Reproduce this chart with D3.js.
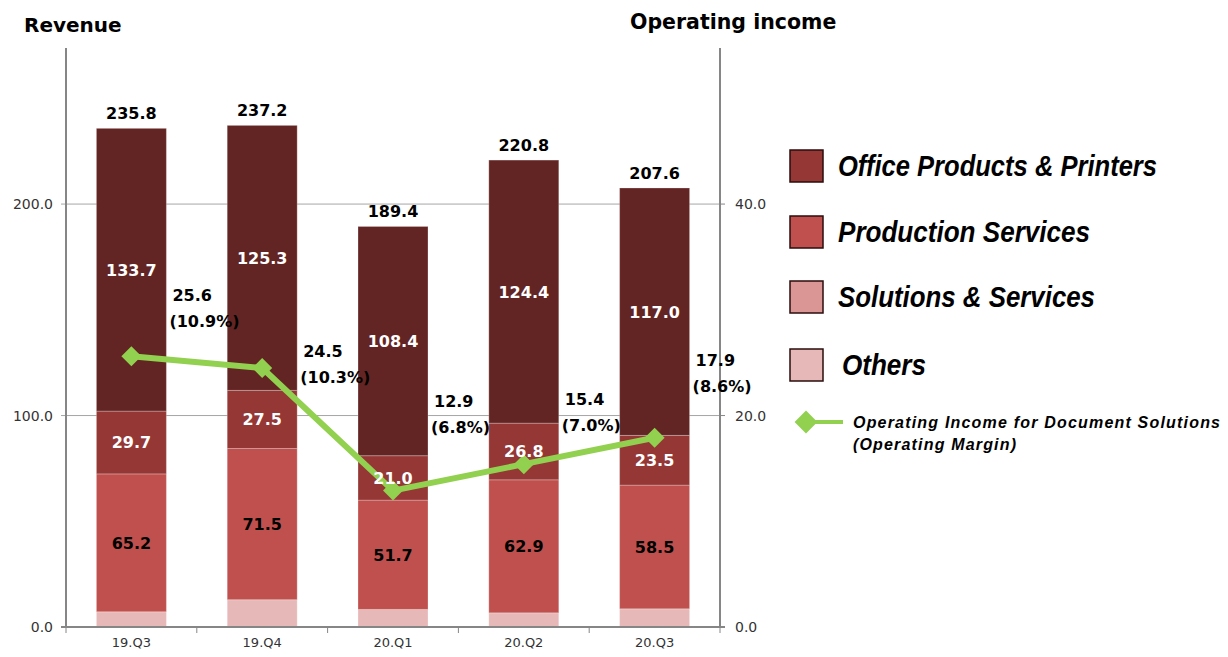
<!DOCTYPE html>
<meta charset="utf-8">
<style>
body { margin: 0; background: #fff; }
svg text { font-family: "DejaVu Sans", Verdana, sans-serif; }
.tick-label { font-size: 14px; fill: #333; }
.seg-label { font-size: 16px; font-weight: bold; }
.total-label { font-size: 16px; font-weight: bold; fill: #000; }
.op-label { font-size: 16px; font-weight: bold; fill: #000; }
.title { font-size: 20px; font-weight: bold; fill: #000; }
.legend-text { font-family: "Liberation Sans", Arial, sans-serif; font-weight: bold; font-style: italic; fill: #000; }
</style>
<body>
<div id="chart"></div>
<script src="https://cdn.jsdelivr.net/npm/d3@7"></script>
<script>
// ---- data ----
var quarters = ["19.Q3", "19.Q4", "20.Q1", "20.Q2", "20.Q3"];
var officeProducts = [133.7, 125.3, 108.4, 124.4, 117.0];
var productionServices = [29.7, 27.5, 21.0, 26.8, 23.5];
var solutionsServices = [65.2, 71.5, 51.7, 62.9, 58.5];
var others = [7.2, 12.9, 8.3, 6.7, 8.6];
var totals = [235.8, 237.2, 189.4, 220.8, 207.6];
var opIncome = [25.6, 24.5, 12.9, 15.4, 17.9];
var opMargin = ["10.9%", "10.3%", "6.8%", "7.0%", "8.6%"];
var leftTicks = [0, 100, 200];
var rightTicks = [0, 20, 40];

var W = 1228, H = 657;
var plotLeft = 66, plotRight = 720, plotTop = 48, plotBottom = 627;

var svg = d3.select("#chart").append("svg")
  .attr("width", W).attr("height", H);

var x = d3.scaleBand().domain(quarters).range([plotLeft, plotRight])
  .paddingInner(0.465).paddingOuter(0.2325);
var y = d3.scaleLinear().domain([0, 273.8]).range([plotBottom, plotTop]);
var y2 = d3.scaleLinear().domain([0, 54.76]).range([plotBottom, plotTop]);

// gridlines
svg.selectAll(".grid").data(leftTicks.filter(function(d){ return d > 0; }))
  .enter().append("line")
  .attr("x1", plotLeft - 5).attr("x2", plotRight)
  .attr("y1", function(d){ return y(d); }).attr("y2", function(d){ return y(d); })
  .attr("stroke", "#a6a6a6").attr("stroke-width", 1);

// stacked bars
var keys = ["others", "solutions", "production", "office"];
var colors = {others: "#e6b9b8", solutions: "#c0504d", production: "#953735", office: "#632523"};
var labelFill = {solutions: "#000", production: "#fff", office: "#fff"};
var rows = quarters.map(function(q, i) {
  return {q: q, others: others[i], solutions: solutionsServices[i],
          production: productionServices[i], office: officeProducts[i]};
});
var layers = d3.stack().keys(keys)(rows);

var g = svg.append("g");
layers.forEach(function(layer) {
  g.selectAll(null).data(layer).enter().append("rect")
    .attr("x", function(d){ return x(d.data.q); })
    .attr("width", x.bandwidth())
    .attr("y", function(d){ return y(d[1]); })
    .attr("height", function(d){ return y(d[0]) - y(d[1]); })
    .attr("fill", colors[layer.key])
    .attr("stroke", "rgba(255,255,255,0.25)").attr("stroke-width", 1);
});

// axes
svg.append("line").attr("x1", plotLeft).attr("x2", plotLeft).attr("y1", plotTop).attr("y2", plotBottom)
  .attr("stroke", "#868686").attr("stroke-width", 2);
svg.append("line").attr("x1", plotRight).attr("x2", plotRight).attr("y1", plotTop).attr("y2", plotBottom)
  .attr("stroke", "#868686").attr("stroke-width", 2);
svg.append("line").attr("x1", plotLeft - 5).attr("x2", plotRight + 5).attr("y1", plotBottom).attr("y2", plotBottom)
  .attr("stroke", "#868686").attr("stroke-width", 2);

svg.selectAll(".lt").data(leftTicks).enter().append("text")
  .attr("class", "tick-label")
  .attr("x", plotLeft - 13).attr("y", function(d){ return y(d) + 5; })
  .attr("text-anchor", "end")
  .text(function(d){ return d.toFixed(1); });
svg.selectAll(".rt-tick").data(rightTicks).enter().append("line")
  .attr("x1", plotRight).attr("x2", plotRight + 5)
  .attr("y1", function(d){ return y2(d); }).attr("y2", function(d){ return y2(d); })
  .attr("stroke", "#868686").attr("stroke-width", 1);
svg.selectAll(".rt").data(rightTicks).enter().append("text")
  .attr("class", "tick-label")
  .attr("x", plotRight + 15).attr("y", function(d){ return y2(d) + 5; })
  .text(function(d){ return d.toFixed(1); });

var gap = x.step() - x.bandwidth();
var bounds = quarters.map(function(q){ return x(q) - gap / 2; }).concat([plotRight]);
svg.selectAll(".xt").data(bounds).enter().append("line")
  .attr("x1", function(d){ return d; }).attr("x2", function(d){ return d; })
  .attr("y1", plotBottom).attr("y2", plotBottom + 6)
  .attr("stroke", "#868686").attr("stroke-width", 1);
svg.selectAll(".xl").data(quarters).enter().append("text")
  .attr("class", "tick-label")
  .attr("x", function(d){ return x(d) + x.bandwidth() / 2; })
  .attr("y", plotBottom + 20)
  .attr("text-anchor", "middle")
  .style("font-size", "13px")
  .text(function(d){ return d; });

// operating income line
var green = "#92d050";
var line = d3.line()
  .x(function(d, i){ return x(quarters[i]) + x.bandwidth() / 2; })
  .y(function(d){ return y2(d); });
svg.append("path").datum(opIncome).attr("d", line)
  .attr("fill", "none").attr("stroke", green).attr("stroke-width", 6)
  .attr("stroke-linejoin", "round");
var diamond = d3.symbol().type(d3.symbolSquare).size(200);
svg.selectAll(".pt").data(opIncome).enter().append("path")
  .attr("d", diamond)
  .attr("transform", function(d, i){
    return "translate(" + (x(quarters[i]) + x.bandwidth() / 2) + "," + y2(d) + ") rotate(45)";
  })
  .attr("fill", green);

// bar value labels sit above the line
var lbl = svg.append("g");
layers.forEach(function(layer) {
  if (layer.key == "others") return;
  lbl.selectAll(null).data(layer).enter().append("text")
    .attr("class", "seg-label")
    .attr("x", function(d){ return x(d.data.q) + x.bandwidth() / 2; })
    .attr("y", function(d){ return y((d[0] + d[1]) / 2) + 6; })
    .attr("text-anchor", "middle")
    .attr("fill", labelFill[layer.key])
    .text(function(d){ return d.data[layer.key].toFixed(1); });
});
lbl.selectAll(".total-label").data(totals).enter().append("text")
  .attr("class", "total-label")
  .attr("x", function(d, i){ return x(quarters[i]) + x.bandwidth() / 2; })
  .attr("y", function(d){ return y(d) - 9; })
  .attr("text-anchor", "middle")
  .text(function(d){ return d.toFixed(1); });

// operating income labels (offsets follow the original slide)
var labelLift = [-55, -11, -84, -59, -72];
opIncome.forEach(function(v, i) {
  var px = x(quarters[i]) + x.bandwidth() / 2 + 41;
  var py = y2(v) + labelLift[i];
  svg.append("text").attr("class", "op-label").attr("x", px).attr("y", py).text(v.toFixed(1));
  svg.append("text").attr("class", "op-label").attr("x", px - 3).attr("y", py + 26).text("(" + opMargin[i] + ")");
});

// titles
svg.append("text").attr("class", "title").attr("x", 24).attr("y", 32).text("Revenue");
svg.append("text").attr("class", "title").attr("x", 630).attr("y", 29).style("font-size", "20.5px").text("Operating income");

// legend
var legendItems = [
  {name: "Office Products & Printers", fill: "#953735", y: 166, len: 319},
  {name: "Production Services", fill: "#c0504d", y: 232, len: 252},
  {name: "Solutions & Services", fill: "#d99694", y: 297, len: 257},
  {name: "Others", fill: "#e6b9b8", y: 365, len: 84}
];
var lg = svg.append("g");
lg.selectAll("rect").data(legendItems).enter().append("rect")
  .attr("x", 790).attr("y", function(d){ return d.y - 16; })
  .attr("width", 33).attr("height", 32)
  .attr("fill", function(d){ return d.fill; })
  .attr("stroke", "#2b0d0d").attr("stroke-width", 1.5);
lg.selectAll("text").data(legendItems).enter().append("text")
  .attr("class", "legend-text")
  .attr("x", function(d){ return d.name == "Others" ? 842 : 838; })
  .attr("y", function(d){ return d.y + 10; })
  .attr("textLength", function(d){ return d.len; })
  .attr("lengthAdjust", "spacingAndGlyphs")
  .style("font-size", "29px")
  .text(function(d){ return d.name; });

lg.append("line").attr("x1", 806).attr("x2", 843).attr("y1", 422).attr("y2", 422)
  .attr("stroke", green).attr("stroke-width", 4);
lg.append("path").attr("d", d3.symbol().type(d3.symbolSquare).size(260))
  .attr("transform", "translate(806,422) rotate(45)").attr("fill", green);
lg.append("text").attr("class", "legend-text").attr("x", 853).attr("y", 428)
  .style("font-size", "16px")
  .attr("textLength", 367).attr("lengthAdjust", "spacing")
  .text("Operating Income for Document Solutions");
lg.append("text").attr("class", "legend-text").attr("x", 853).attr("y", 450)
  .style("font-size", "16px")
  .attr("textLength", 163).attr("lengthAdjust", "spacing")
  .text("(Operating Margin)");
</script>
</body>
